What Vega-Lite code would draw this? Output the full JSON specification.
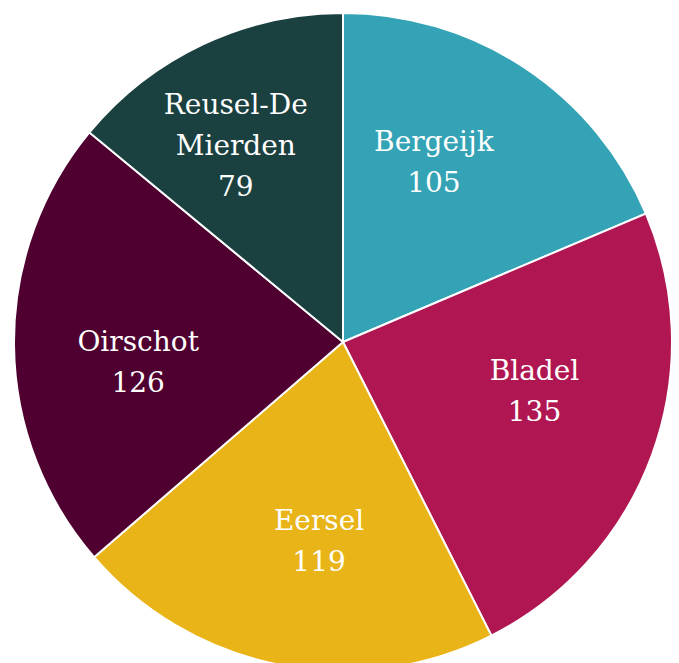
{
  "$schema": "https://vega.github.io/schema/vega-lite/v6.json",
  "autosize": "none",
  "padding": 0,
  "width": 686,
  "height": 684,
  "background": "white",
  "data": {
    "values": [
      {"name": "Bergeijk", "line1": "", "line2": "Bergeijk", "value": 105},
      {"name": "Bladel", "line1": "", "line2": "Bladel", "value": 135},
      {"name": "Eersel", "line1": "", "line2": "Eersel", "value": 119},
      {"name": "Oirschot", "line1": "", "line2": "Oirschot", "value": 126},
      {"name": "Reusel-De Mierden", "line1": "Reusel-De", "line2": "Mierden", "value": 79}
    ]
  },
  "encoding": {
    "color": {
      "field": "name",
      "type": "nominal",
      "sort": ["Bergeijk", "Bladel", "Eersel", "Oirschot", "Reusel-De Mierden"],
      "scale": {
        "domain": ["Bergeijk", "Bladel", "Eersel", "Oirschot", "Reusel-De Mierden"],
        "range": ["#33a3b5", "#b01752", "#e8b418", "#4f0030", "#1a4040"]
      },
      "legend": null
    },
    "order": {"field": "name", "type": "ordinal", "sort": "ascending"}
  },
  "layer": [
    {
      "mark": {"type": "arc", "outerRadius": 329, "stroke": "white", "strokeWidth": 2},
      "encoding": {
        "theta": {"field": "value", "type": "quantitative", "stack": true}
      }
    },
    {
      "layer": [
        {
          "mark": {
            "type": "text", "radius": 202, "dx": -4, "dy": -62,
            "fill": "white", "font": "DejaVu Serif", "fontSize": 28,
            "align": "center", "baseline": "middle"
          },
          "encoding": {
            "text": {"field": "line1", "type": "nominal"}
          }
        },
        {
          "mark": {
            "type": "text", "radius": 202, "dx": -4, "dy": -21,
            "fill": "white", "font": "DejaVu Serif", "fontSize": 28,
            "align": "center", "baseline": "middle"
          },
          "encoding": {
            "text": {"field": "line2", "type": "nominal"}
          }
        },
        {
          "mark": {
            "type": "text", "radius": 202, "dx": -4, "dy": 20,
            "fill": "white", "font": "DejaVu Serif", "fontSize": 28,
            "align": "center", "baseline": "middle"
          },
          "encoding": {
            "text": {"field": "value", "type": "quantitative"}
          }
        }
      ],
      "encoding": {
        "theta": {"field": "value", "type": "quantitative", "stack": true, "scale": {"range": [-0.096, 6.187]}},
        "color": {"value": "white"},
        "detail": {"field": "name", "type": "nominal"}
      }
    }
  ],
  "resolve": {"scale": {"theta": "independent"}}
}
